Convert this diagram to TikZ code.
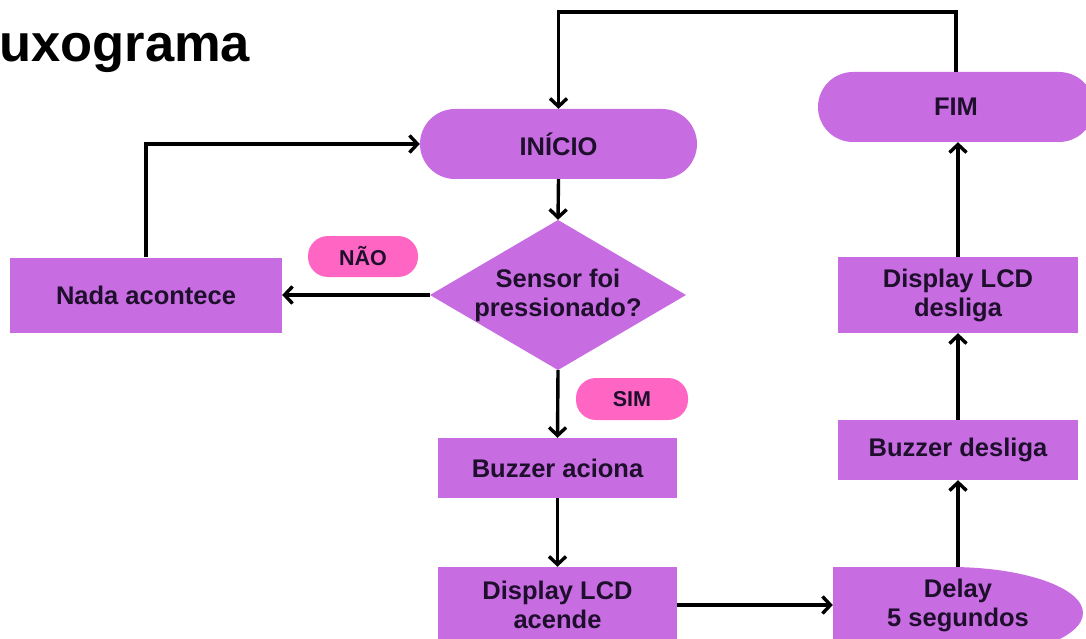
\documentclass[tikz,border=0pt]{standalone}
\usepackage{fontspec}
\setmainfont{Liberation Sans}
\usetikzlibrary{shapes.geometric,arrows.meta}
\definecolor{boxpurple}{HTML}{C86CE2}
\definecolor{tagpink}{HTML}{FF66C4}
\definecolor{txtdark}{HTML}{1E0F2C}
\begin{document}
\begin{tikzpicture}[x=1pt,y=-1pt,
  every node/.style={font=\fontsize{25.5}{29}\selectfont\bfseries, text=txtdark, align=center, inner sep=0pt},
  procbox/.style={fill=boxpurple, rectangle},
  term/.style={fill=boxpurple, rectangle, rounded corners=35pt},
  tag/.style={fill=tagpink, rectangle, rounded corners=20pt, font=\fontsize{21.5}{24}\selectfont\bfseries},
  conn/.style={line width=3.4pt, draw=black, -{Straight Barb[length=8pt,width=17pt,line width=3.4pt]}},
  ]
\useasboundingbox (0,0) rectangle (1086,639);
\clip (0,0) rectangle (1086,639);
\fill[white] (0,0) rectangle (1086,639);

\node[anchor=base west, font=\fontsize{52.5}{60}\selectfont\bfseries, text=black] (title) at (-1,62) {uxograma};

\node[term, minimum width=277, minimum height=70] (inicio) at (558.5,144) {INÍCIO};
\node[term, minimum width=276, minimum height=70] (fim) at (956,107) {FIM};
\fill[boxpurple] (430,295) -- (558,220) -- (686,295) -- (558,370) -- cycle;
\node[minimum width=256, minimum height=150] (sensor) at (558,295) {Sensor foi\\pressionado?};
\node[procbox, minimum width=272, minimum height=75] (nada) at (146,295) {Nada acontece};
\node[tag, minimum width=110, minimum height=41] (nao) at (363,256.5) {NÃO};
\node[tag, minimum width=112, minimum height=42] (sim) at (632,399) {SIM};
\node[procbox, minimum width=239, minimum height=60] (bz1) at (557.5,468) {Buzzer aciona};
\node[procbox, minimum width=239, minimum height=76] (lcd1) at (557.5,605) {Display LCD\\acende};
\fill[boxpurple] (833,567) -- (950,567) arc[start angle=-90, end angle=90, x radius=133, y radius=46] -- (833,659) -- cycle;
\node[minimum width=250, minimum height=76] (delay) at (958,605) {Delay\\5 segundos};
\node[procbox, minimum width=240, minimum height=60] (bz2) at (958,450) {Buzzer desliga};
\node[procbox, minimum width=240, minimum height=76] (lcd2) at (958,295) {Display LCD\\desliga};

\coordinate (topy) at (0,12);
\draw[conn] (fim.north) -- (fim.north |- topy) -| (inicio.north);
\draw[conn] (inicio.south) -- (sensor.north);
\draw[conn] (sensor.west) -- (nada.east);
\draw[conn] (nada.north) |- (inicio.west);
\draw[conn] (sensor.south) -- (bz1.north);
\draw[conn] (bz1.south) -- (lcd1.north);
\draw[conn] (lcd1.east) -- (delay.west);
\draw[conn] (delay.north) -- (bz2.south);
\draw[conn] (bz2.north) -- (lcd2.south);
\draw[conn] (lcd2.north) -- (lcd2.north |- fim.south);
\end{tikzpicture}
\end{document}
